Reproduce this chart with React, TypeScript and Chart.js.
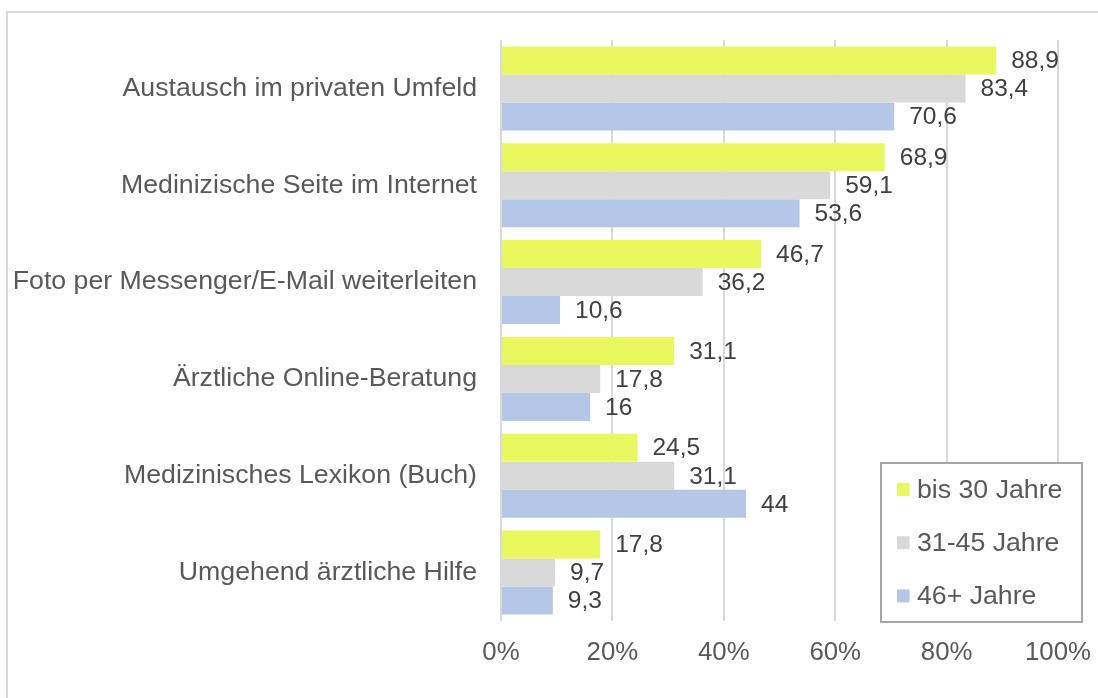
import React, { useEffect, useRef } from "react";
import { Chart, registerables } from "chart.js";

Chart.register(...registerables);

const categories = [
  "Austausch im privaten Umfeld",
  "Medinizische Seite im Internet",
  "Foto per Messenger/E-Mail weiterleiten",
  "Ärztliche Online-Beratung",
  "Medizinisches Lexikon (Buch)",
  "Umgehend ärztliche Hilfe",
];
const seriesNames = ["bis 30 Jahre", "31-45 Jahre", "46+ Jahre"];
const bis30 = [88.9, 68.9, 46.7, 31.1, 24.5, 17.8];
const j31bis45 = [83.4, 59.1, 36.2, 17.8, 31.1, 9.7];
const j46plus = [70.6, 53.6, 10.6, 16, 44, 9.3];
const seriesColors = ["#EAF85F", "#D9D9D9", "#B4C7E7"];
const xTicks = [0, 20, 40, 60, 80, 100];

const FONT = '"Liberation Sans", Arial, sans-serif';
const TEXT = "#595959";
const LABEL_TEXT = "#404040";

const fmt = (v: number) => String(v).replace(".", ",");

const valueLabels = {
  id: "valueLabels",
  afterDatasetsDraw(chart: any) {
    const ctx = chart.ctx;
    ctx.save();
    ctx.font = `24.5px ${FONT}`;
    ctx.fillStyle = LABEL_TEXT;
    ctx.textAlign = "left";
    ctx.textBaseline = "middle";
    chart.data.datasets.forEach((ds: any, i: number) => {
      const meta = chart.getDatasetMeta(i);
      meta.data.forEach((el: any, j: number) => {
        ctx.fillText(fmt(ds.data[j]), el.x + 15, el.y + 1);
      });
    });
    ctx.restore();
  },
};

const boxLegend = {
  id: "boxLegend",
  afterDraw(chart: any) {
    const ctx = chart.ctx;
    const a = chart.chartArea;
    const w = 201;
    const h = 159;
    const right = a.right + 24;
    const bottom = a.bottom + 1;
    const left = right - w;
    const top = bottom - h;
    ctx.save();
    ctx.fillStyle = "#ffffff";
    ctx.fillRect(left, top, w, h);
    ctx.strokeStyle = "#A6A6A6";
    ctx.lineWidth = 2;
    ctx.strokeRect(left, top, w, h);
    ctx.font = `26.7px ${FONT}`;
    ctx.textAlign = "left";
    ctx.textBaseline = "middle";
    chart.data.datasets.forEach((ds: any, i: number) => {
      const cy = top + 26.5 + i * 53.2;
      ctx.fillStyle = ds.backgroundColor;
      ctx.fillRect(left + 16, cy - 6.5, 12.6, 13);
      ctx.fillStyle = TEXT;
      ctx.fillText(ds.label, left + 36, cy + 1);
    });
    ctx.restore();
  },
};

export default function App() {
  const ref = useRef<HTMLCanvasElement | null>(null);
  useEffect(() => {
    if (!ref.current) return;
    const seriesData = [bis30, j31bis45, j46plus];
    const chart = new Chart(ref.current, {
      type: "bar",
      data: {
        labels: categories,
        datasets: seriesNames.map((name, i) => ({
          label: name,
          data: seriesData[i],
          backgroundColor: seriesColors[i],
          borderWidth: 0,
          barPercentage: 1,
          categoryPercentage: 0.868,
        })),
      },
      options: {
        indexAxis: "y",
        responsive: false,
        maintainAspectRatio: false,
        animation: false,
        layout: { padding: { left: 0, right: 40, top: 40, bottom: 0 } },
        plugins: {
          legend: { display: false },
          tooltip: { enabled: false },
          title: { display: false },
        },
        scales: {
          x: {
            type: "linear",
            min: 0,
            max: 100,
            afterBuildTicks: (s: any) => {
              s.ticks = xTicks.map((v) => ({ value: v }));
            },
            afterFit: (s: any) => {
              s.height = 77;
              s.paddingLeft = 0;
              s.paddingRight = 0;
            },
            ticks: {
              callback: (v: any) => `${v}%`,
              font: { family: FONT, size: 25.8 },
              color: TEXT,
              padding: 16,
              maxRotation: 0,
            },
            grid: { color: "#D9D9D9", lineWidth: 2, drawTicks: false },
            border: { display: false },
          },
          y: {
            afterFit: (s: any) => {
              s.width = 501;
            },
            ticks: {
              font: { family: FONT, size: 26.7 },
              color: TEXT,
              padding: 24,
            },
            grid: { display: false, drawTicks: false },
            border: { display: false },
          },
        },
      },
      plugins: [valueLabels, boxLegend],
    } as any);
    return () => chart.destroy();
  }, []);

  return (
    <div
      style={{
        position: "fixed",
        left: 0,
        top: 0,
        width: 1098,
        height: 698,
        background: "#ffffff",
        overflow: "hidden",
      }}
    >
      <div
        style={{
          position: "absolute",
          left: 6,
          top: 11,
          width: 1120,
          height: 720,
          border: "2px solid #D9D9D9",
          boxSizing: "border-box",
        }}
      />
      <canvas
        ref={ref}
        width={1098}
        height={698}
        style={{ position: "absolute", left: 0, top: 0, width: 1098, height: 698 }}
      />
    </div>
  );
}
